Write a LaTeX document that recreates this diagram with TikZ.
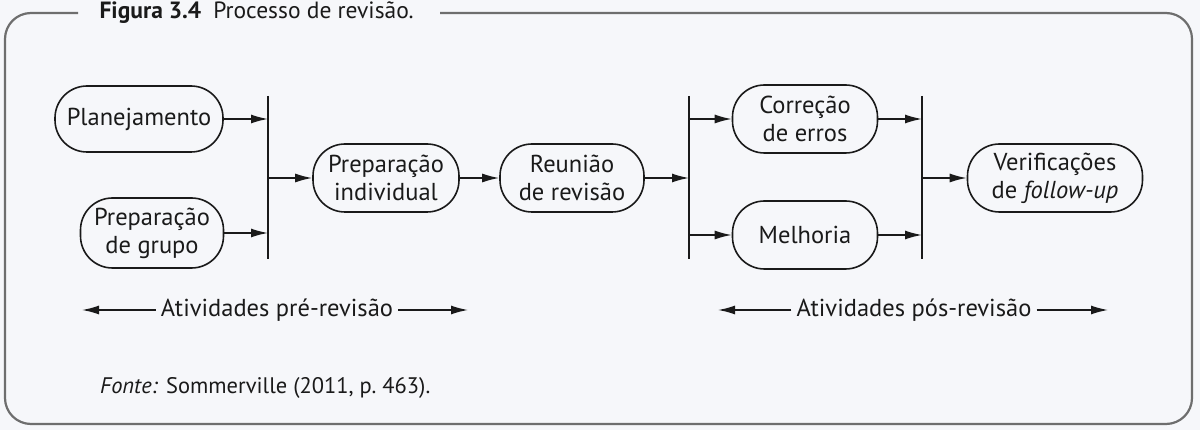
\documentclass[tikz,border=0pt]{standalone}
\usepackage{fontspec}
\setmainfont{PT Sans}
\usepackage{tikz}
\usetikzlibrary{arrows.meta}
\definecolor{bgpage}{HTML}{F6F7FA}
\definecolor{framegray}{HTML}{6E6E6E}
\definecolor{ink}{HTML}{1A1A1A}
\tikzset{>={Latex[length=17pt,width=9pt]}}
\tikzset{
    etapa/.style={draw=ink, line width=1.6pt, rounded corners=32pt, align=center,
        text=ink, font=\fontsize{24.5}{28}\selectfont, inner sep=0pt},
    barra/.style={draw=ink, line width=1.8pt},
    seta/.style={->, draw=ink, line width=1.5pt}
}

\begin{document}
\begin{tikzpicture}[x=1pt,y=-1pt]

    \useasboundingbox[fill=bgpage] (0,0) rectangle (1200,430);

    % moldura com titulo
    \draw[framegray, line width=2.2pt, rounded corners=26pt]
        (78,13) -- (5,13) -- (5,424) -- (1192,424) -- (1192,13) -- (440,13);
    \node[anchor=west, text=ink, font=\fontsize{23.5}{27}\selectfont] (titulo) at (96,13)
        {\textbf{Figura 3.4}\hspace{12pt}Processo de revisão.};

    % etapas
    \node[etapa, minimum width=168pt, minimum height=66pt] (plan) at (139,119) {Planejamento};
    \node[etapa, minimum width=143pt, minimum height=70pt] (grupo) at (152,233) {Preparação\\de grupo};
    \node[etapa, minimum width=146pt, minimum height=68pt] (indiv) at (386,178) {Preparação\\individual};
    \node[etapa, minimum width=144pt, minimum height=68pt] (reuniao) at (572,178) {Reunião\\de revisão};
    \node[etapa, minimum width=145pt, minimum height=68pt] (correcao) at (805,119) {Correção\\de erros};
    \node[etapa, minimum width=145pt, minimum height=68pt] (melhoria) at (805,235) {Melhoria};
    \node[etapa, minimum width=175pt, minimum height=68pt] (verif) at (1055,178) {Verificações\\de \textit{follow-up}};

    % barras
    \coordinate (b1t) at (268,96);  \coordinate (b1b) at (268,259);
    \coordinate (b2t) at (689,96);  \coordinate (b2b) at (689,259);
    \coordinate (b3t) at (922,96);  \coordinate (b3b) at (922,259);
    \draw[barra] (b1t) -- (b1b);
    \draw[barra] (b2t) -- (b2b);
    \draw[barra] (b3t) -- (b3b);

    % conexoes
    \draw[seta] (plan.east) -- (plan.east -| b1t);
    \draw[seta] (grupo.east) -- (grupo.east -| b1t);
    \draw[seta] (indiv.west -| b1t) -- (indiv.west);
    \draw[seta] (indiv.east) -- (reuniao.west);
    \draw[seta] (reuniao.east) -- (reuniao.east -| b2t);
    \draw[seta] (correcao.west -| b2t) -- (correcao.west);
    \draw[seta] (melhoria.west -| b2t) -- (melhoria.west);
    \draw[seta] (correcao.east) -- (correcao.east -| b3t);
    \draw[seta] (melhoria.east) -- (melhoria.east -| b3t);
    \draw[seta] (verif.west -| b3t) -- (verif.west);

    % atividades
    \node[text=ink, font=\fontsize{24.5}{28}\selectfont, inner sep=5pt] (pre) at (277,310) {Atividades pré-revisão};
    \coordinate (preA) at (82,310);  \coordinate (preB) at (468,310);
    \draw[seta] (pre.west) -- (preA);
    \draw[seta] (pre.east) -- (preB);

    \node[text=ink, font=\fontsize{24.5}{28}\selectfont, inner sep=5pt] (pos) at (914,310) {Atividades pós-revisão};
    \coordinate (posA) at (718,310);  \coordinate (posB) at (1108,310);
    \draw[seta] (pos.west) -- (posA);
    \draw[seta] (pos.east) -- (posB);

    % fonte
    \node[anchor=west, text=ink, font=\fontsize{22.5}{26}\selectfont, inner sep=0pt] (fonte) at (100,388)
        {\textit{Fonte:} Sommerville (2011, p.~463).};

\end{tikzpicture}
\end{document}
